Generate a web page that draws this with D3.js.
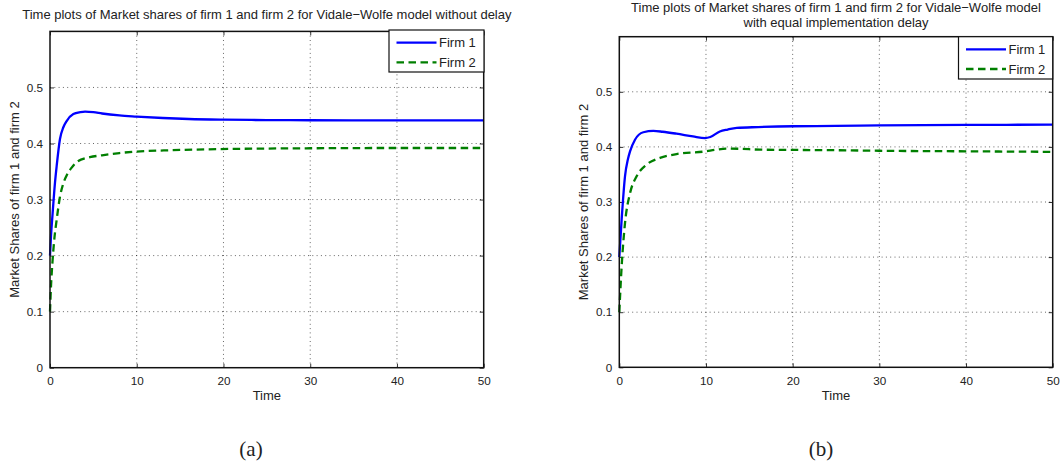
<!DOCTYPE html>
<html><head><meta charset="utf-8">
<script src="https://cdn.jsdelivr.net/npm/d3@7"></script>
<style>
html,body{margin:0;padding:0;background:#fff;}
svg text{font-family:"Liberation Sans",Arial,Helvetica,sans-serif;fill:#222;}
</style></head>
<body>
<svg id="chart" width="1064" height="463"></svg>
<script>
// ---- data ----
const xTicks = [0, 10, 20, 30, 40, 50];
const yTicks = [0, 0.1, 0.2, 0.3, 0.4, 0.5];
const seriesNames = ["Firm 1", "Firm 2"];
const titleA = ["Time plots of Market shares of firm 1 and firm 2 for Vidale\u2212Wolfe model without delay"];
const titleB = ["Time plots of Market shares of firm 1 and firm 2 for Vidale\u2212Wolfe model", "with equal implementation delay"];
const captions = ["(a)", "(b)"];
const xLabel = "Time";
const yLabel = "Market Shares of firm 1 and firm 2";

const firm1A = [[0,0.20],[0.12,0.236],[0.3,0.275],[0.58,0.331],[0.77,0.36],[1.15,0.408],[1.54,0.429],[1.92,0.44],[2.69,0.4526],[3.5,0.456],[4.04,0.457],[5,0.456],[6,0.4535],[8,0.450],[10,0.448],[13,0.4455],[16,0.4437],[20,0.4425],[25,0.4418],[30,0.4415],[40,0.4413],[50,0.4413]];
const firm2A = [[0,0.10],[0.1,0.14],[0.3,0.192],[0.5,0.23],[0.77,0.264],[1.15,0.305],[1.5,0.327],[1.92,0.343],[2.5,0.357],[3.08,0.367],[4.6,0.3755],[6,0.379],[8,0.383],[10,0.3856],[14,0.388],[19.6,0.390],[25,0.391],[30,0.3915],[40,0.392],[50,0.392]];
const firm1B = [[0,0.20],[0.27,0.268],[0.66,0.347],[1.0,0.378],[1.24,0.392],[1.81,0.413],[2.77,0.4266],[3.93,0.429],[5,0.4275],[6.6,0.424],[8.5,0.419],[9.9,0.416],[10.5,0.418],[11.6,0.428],[12.5,0.4315],[13.55,0.4345],[16,0.436],[20,0.4375],[25,0.438],[30,0.439],[40,0.4398],[50,0.4405]];
const firm2B = [[0,0.10],[0.27,0.183],[0.66,0.262],[1.24,0.316],[2.0,0.3466],[3.16,0.368],[4.7,0.38],[6.6,0.387],[10,0.392],[11,0.3945],[12.4,0.397],[14,0.3965],[16.2,0.395],[20,0.3945],[25,0.394],[30,0.393],[40,0.392],[50,0.391]];

const panels = [
  {left:50, right:483.7, top:31.4, bottom:367.7, title:titleA, titleY:[19], cap:captions[0], capX:251, legend:{x:389, y:30, w:95, h:42}, series:[firm1A, firm2A]},
  {left:619.3, right:1052.7, top:36.7, bottom:367.3, title:titleB, titleY:[12.3, 26.7], cap:captions[1], capX:821, legend:{x:958.5, y:36.7, w:94.2, h:42.3}, series:[firm1B, firm2B]}
];
const colors = ["#0000ff", "#007f00"];
const dashes = [null, "7.5,4.5"];

const svg = d3.select("#chart");

panels.forEach(p => {
  const x = d3.scaleLinear().domain([0, 50]).range([p.left, p.right]);
  const y = d3.scaleLinear().domain([0, 0.6]).range([p.bottom, p.top]);
  const g = svg.append("g");

  // grid
  g.append("g").selectAll("line").data(xTicks.filter(t => t > 0 && t < 50)).join("line")
    .attr("x1", d => x(d)).attr("x2", d => x(d)).attr("y1", p.top).attr("y2", p.bottom)
    .attr("stroke", "#000").attr("stroke-width", 0.8).attr("stroke-dasharray", "1,3.3").attr("stroke-opacity", 0.75);
  g.append("g").selectAll("line").data(yTicks.filter(t => t > 0)).join("line")
    .attr("x1", p.left).attr("x2", p.right).attr("y1", d => y(d)).attr("y2", d => y(d))
    .attr("stroke", "#000").attr("stroke-width", 0.8).attr("stroke-dasharray", "1,3.3").attr("stroke-opacity", 0.75);

  // axes (ticks inward)
  const ax = g.append("g").attr("transform", `translate(0,${p.bottom})`)
    .call(d3.axisBottom(x).tickValues(xTicks).tickSize(-4).tickPadding(9).tickFormat(d3.format("d")));
  const ay = g.append("g").attr("transform", `translate(${p.left},0)`)
    .call(d3.axisLeft(y).tickValues(yTicks).tickSize(-4).tickPadding(7).tickFormat(d => d === 0 ? "0" : d3.format(".1f")(d)));
  const axT = g.append("g").attr("transform", `translate(0,${p.top})`)
    .call(d3.axisTop(x).tickValues(xTicks).tickSize(-4).tickFormat(""));
  const ayR = g.append("g").attr("transform", `translate(${p.right},0)`)
    .call(d3.axisRight(y).tickValues(yTicks).tickSize(-4).tickFormat(""));
  [ax, ay, axT, ayR].forEach(a => {
    a.select(".domain").remove();
    a.selectAll(".tick line").attr("stroke", "#000").attr("stroke-width", 0.8);
    a.selectAll("text").attr("font-size", 11.7).attr("fill", "#222")
      .attr("font-family", "Liberation Sans, Arial, sans-serif");
  });

  // lines
  const line = d3.line().x(d => x(d[0])).y(d => y(d[1])).curve(d3.curveMonotoneX);
  p.series.forEach((s, i) => {
    g.append("path").datum(s).attr("d", line).attr("fill", "none")
      .attr("stroke", colors[i]).attr("stroke-width", 2.3)
      .attr("stroke-dasharray", dashes[i]);
  });

  // box
  g.append("rect").attr("x", p.left).attr("y", p.top).attr("width", p.right - p.left).attr("height", p.bottom - p.top)
    .attr("fill", "none").attr("stroke", "#111").attr("stroke-width", 1.5);

  // legend
  const L = p.legend;
  const lg = g.append("g");
  lg.append("rect").attr("x", L.x).attr("y", L.y).attr("width", L.w).attr("height", L.h)
    .attr("fill", "#fff").attr("stroke", "#111").attr("stroke-width", 1.2);
  seriesNames.forEach((n, i) => {
    const ry = L.y + 12.6 + i * 19.7;
    lg.append("line").attr("x1", L.x + 7.5).attr("x2", L.x + 47.5).attr("y1", ry).attr("y2", ry)
      .attr("stroke", colors[i]).attr("stroke-width", 2.3).attr("stroke-dasharray", dashes[i]);
    lg.append("text").attr("x", L.x + 50).attr("y", ry + 4.6).attr("font-size", 13).text(n);
  });

  // titles
  p.title.forEach((t, i) => {
    g.append("text").attr("x", (p.left + p.right) / 2).attr("y", p.titleY[i]).attr("text-anchor", "middle")
      .attr("font-size", 13).text(t);
  });
  // axis labels
  g.append("text").attr("x", (p.left + p.right) / 2).attr("y", 400).attr("text-anchor", "middle")
    .attr("font-size", 13).text(xLabel);
  g.append("text").attr("transform", `translate(${p.left - 31.5},${(p.top + p.bottom) / 2}) rotate(-90)`)
    .attr("text-anchor", "middle").attr("font-size", 13).text(yLabel);
  // caption
  g.append("text").attr("x", p.capX).attr("y", 456).attr("text-anchor", "middle")
    .attr("font-size", 21).style("font-family", "'Liberation Serif','DejaVu Serif',serif").attr("fill", "#111").text(p.cap);
});
</script>
</body></html>
